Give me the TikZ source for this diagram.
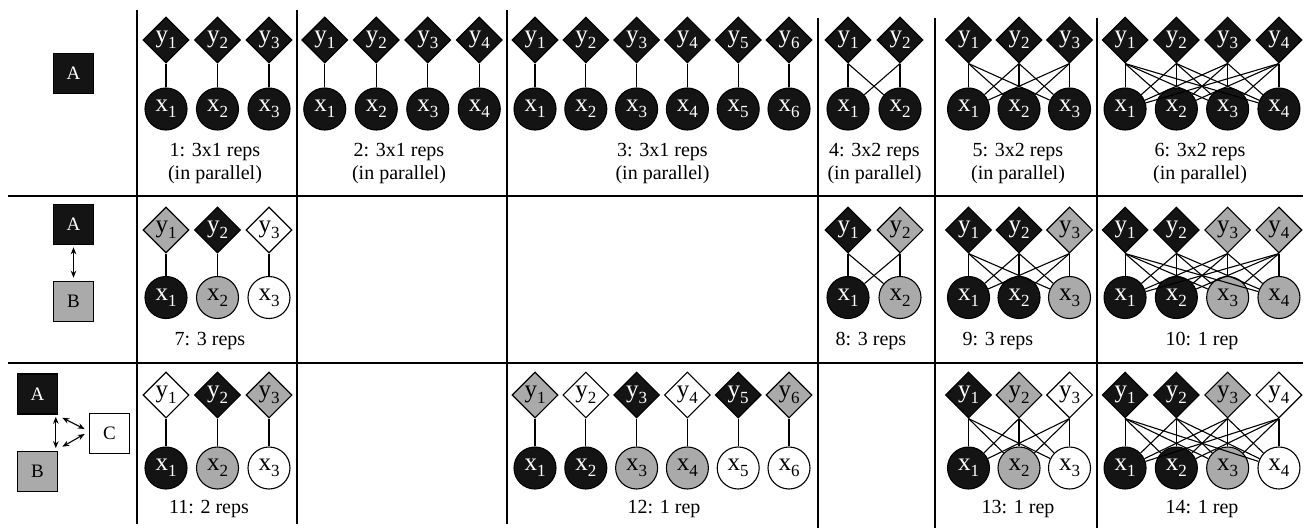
\documentclass[tikz,border=0pt]{standalone}
\usepackage{fontspec}
\setmainfont{Liberation Serif}
\usetikzlibrary{shapes.geometric,arrows.meta,calc}
\definecolor{nblack}{RGB}{20,20,20}
\definecolor{ngray}{RGB}{170,170,170}
\newcommand\nlab[2]{#1\raisebox{-6pt}{\fontsize{17}{17}\selectfont #2}}
\newcommand\nodefont{\fontsize{25}{25}\selectfont}
\newcommand\labfont{\fontsize{20}{23}\selectfont}
\tikzset{
 ynode/.style={diamond, draw=black, line width=1.1pt, minimum width=46pt, minimum height=46pt, inner sep=0pt, font=\nodefont},
 xnode/.style={circle, draw=black, line width=1.1pt, minimum size=42pt, inner sep=0pt, font=\nodefont},
 K/.style={fill=nblack, text=white},
 G/.style={fill=ngray, text=black},
 W/.style={fill=white, text=black},
 link/.style={line width=1.1pt, draw=black},
 rule/.style={line width=1.3pt, draw=black},
 caption/.style={font=\labfont, align=center, inner sep=0pt},
 box/.style={draw=black, line width=1.6pt, minimum size=40pt, inner sep=0pt, font=\fontsize{19}{19}\selectfont},
 dbl/.style={{Stealth[length=7pt,width=5.5pt]}-{Stealth[length=7pt,width=5.5pt]}, line width=1.1pt},
}
% #1 name, #2 n, #3 centre x, #4 spacing, #5 y diamonds, #6 y circles, #7 y colours, #8 x colours, #9 1=complete 0=vertical
\newcommand\grp[9]{%
 \foreach \c [count=\i] in {#7} {\node[ynode,\c] (#1y\i) at ({#3+(\i-(#2+1)/2)*#4},#5) {\nlab{y}{\i}};}
 \foreach \c [count=\i] in {#8} {\node[xnode,\c] (#1x\i) at ({#3+(\i-(#2+1)/2)*#4},#6) {\nlab{x}{\i}};}
 \ifnum#9=1
  \foreach \i in {1,...,#2} {\foreach \j in {1,...,#2} {\draw[link] (#1y\i.south) -- (#1x\j);}}
 \else
  \foreach \i in {1,...,#2} {\draw[link] (#1y\i.south) -- (#1x\i);}
 \fi
}
\begin{document}
\begin{tikzpicture}[x=1pt,y=-1pt]
\path[use as bounding box] (0,0) rectangle (1307,530);
% table rules
\draw[rule] (8,196) -- (1303,196);
\draw[rule] (8,363) -- (1303,363);
\draw[rule] (137,10) -- (137,524);
\draw[rule] (297,10) -- (297,524);
\draw[rule] (507,10) -- (507,524);
\draw[rule] (818,18) -- (818,528);
\draw[rule] (935,18) -- (935,528);
\draw[rule] (1097,18) -- (1097,528);
% left column
\node[box,K] (A1) at (73.5,73.5) {A};
\node[box,K] (A2) at (73.5,224.5) {A};
\node[box,G] (B2) at (73.5,301.5) {B};
\draw[dbl,shorten <=2pt,shorten >=3pt] (A2.south) -- (B2.north);
\node[box,K] (A3) at (37.5,394) {A};
\node[box,G] (B3) at (37.5,471.5) {B};
\node[box,W] (C3) at (109.5,433.5) {C};
\draw[dbl] ($(A3.south east)+(-2.5,2)$) -- ($(B3.north east)+(-2.5,-2.5)$);
\draw[dbl] ($(A3.south east)+(4,3)$) -- ($(C3.west)+(-4,-4.5)$);
\draw[dbl] ($(B3.north east)+(4,-4)$) -- ($(C3.west)+(-4,0.5)$);
% row 1
\grp{a}{3}{217.5}{51.5}{40}{109}{K,K,K}{K,K,K}{0}
\grp{b}{4}{402}{51.5}{40}{109}{K,K,K,K}{K,K,K,K}{0}
\grp{c}{6}{662}{50.8}{40}{109}{K,K,K,K,K,K}{K,K,K,K,K,K}{0}
\grp{d}{2}{874}{52}{40}{109}{K,K}{K,K}{1}
\grp{e}{3}{1019}{50.5}{40}{109}{K,K,K}{K,K,K}{1}
\grp{f}{4}{1202}{51.3}{40}{109}{K,K,K,K}{K,K,K,K}{1}
\node[caption] (l1) at (215,163.5) {1: 3x1 reps\\(in parallel)};
\node[caption] (l2) at (399,163.5) {2: 3x1 reps\\(in parallel)};
\node[caption] (l3) at (662.5,163.5) {3: 3x1 reps\\(in parallel)};
\node[caption] (l4) at (874.5,163.5) {4: 3x2 reps\\(in parallel)};
\node[caption] (l5) at (1018,163.5) {5: 3x2 reps\\(in parallel)};
\node[caption] (l6) at (1200,163.5) {6: 3x2 reps\\(in parallel)};
% row 2
\grp{g}{3}{217.5}{51.5}{230}{297.5}{G,K,W}{K,G,W}{0}
\grp{h}{2}{874}{52}{230}{297.5}{K,G}{K,G}{1}
\grp{i}{3}{1019}{50.5}{230}{297.5}{K,K,G}{K,K,G}{1}
\grp{j}{4}{1202}{51.3}{230}{297.5}{K,K,G,G}{K,K,G,G}{1}
\node[caption] (l7) at (210,341) {7: 3 reps};
\node[caption] (l8) at (871,341) {8: 3 reps};
\node[caption] (l9) at (998,341) {9: 3 reps};
\node[caption] (l10) at (1202,341) {10: 1 rep};
% row 3
\grp{k}{3}{217.5}{51.5}{395}{468}{W,K,G}{K,G,W}{0}
\grp{m}{6}{662}{50.8}{395}{468}{G,W,K,W,K,G}{K,K,G,G,W,W}{0}
\grp{n}{3}{1019}{50.5}{395}{468}{K,G,W}{K,G,W}{1}
\grp{p}{4}{1202}{51.3}{395}{468}{K,K,G,W}{K,K,G,W}{1}
\node[caption] (l11) at (209,509) {11: 2 reps};
\node[caption] (l12) at (664,509) {12: 1 rep};
\node[caption] (l13) at (1018,509) {13: 1 rep};
\node[caption] (l14) at (1202,509) {14: 1 rep};
\end{tikzpicture}
\end{document}
